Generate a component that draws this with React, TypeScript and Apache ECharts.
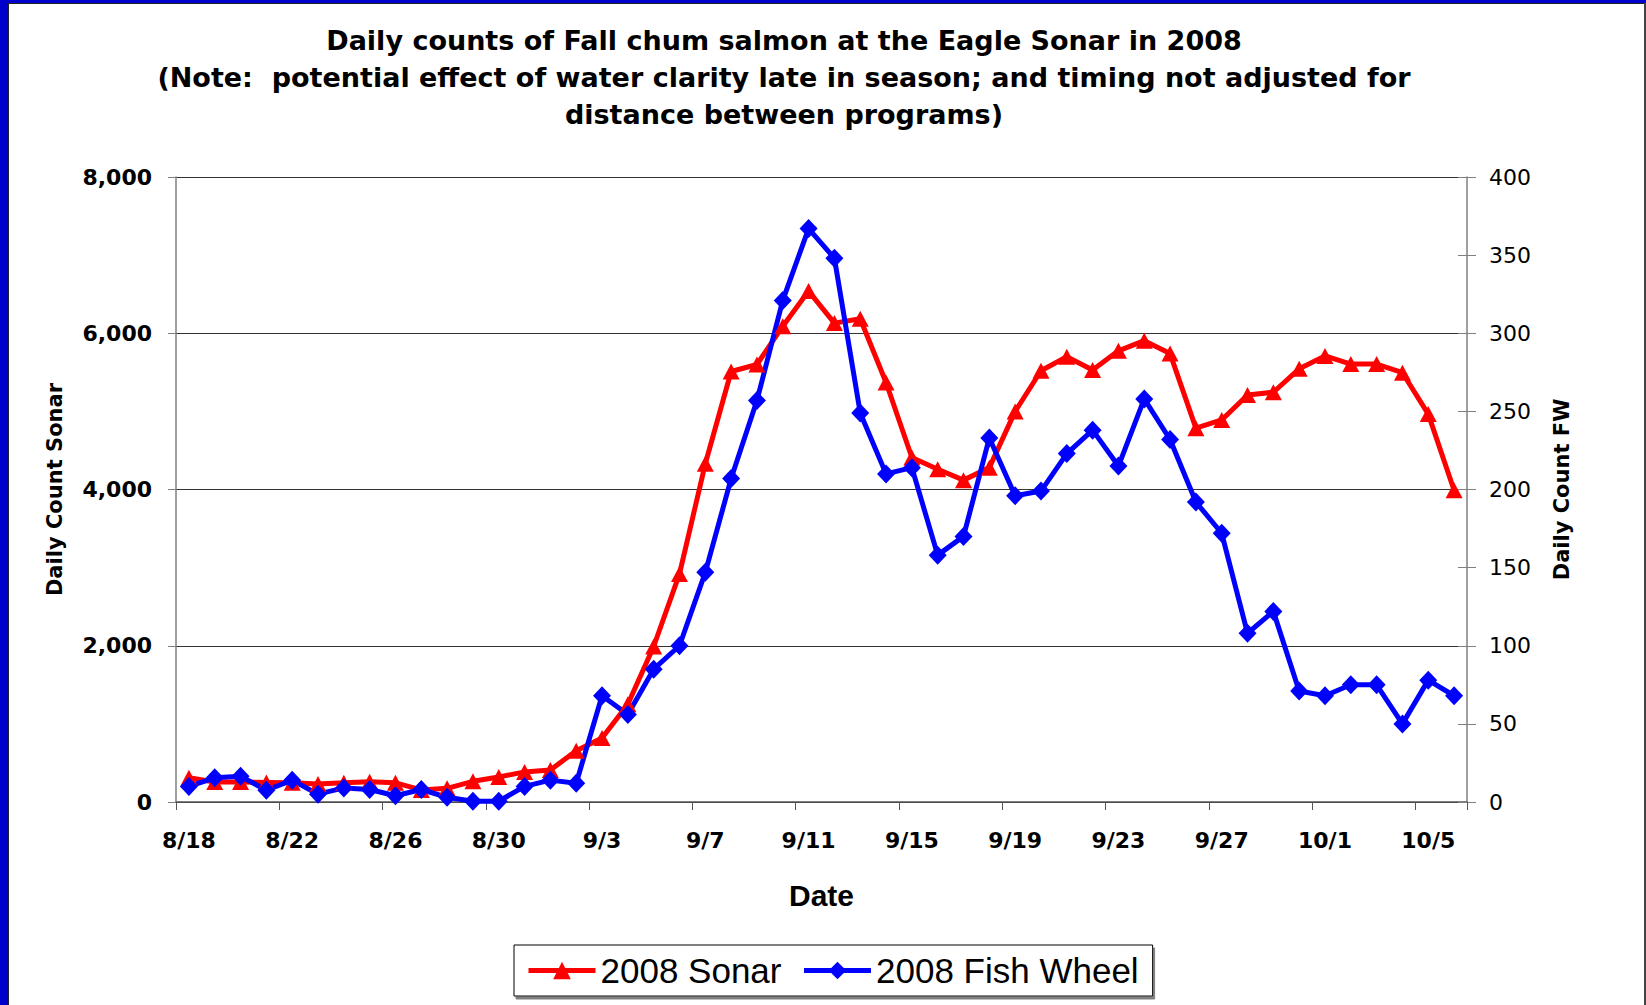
import React, { useEffect, useRef } from "react";
import * as echarts from "echarts";

const dates = [
  "8/18", "8/19", "8/20", "8/21", "8/22", "8/23", "8/24", "8/25", "8/26", "8/27",
  "8/28", "8/29", "8/30", "8/31", "9/1", "9/2", "9/3", "9/4", "9/5", "9/6",
  "9/7", "9/8", "9/9", "9/10", "9/11", "9/12", "9/13", "9/14", "9/15", "9/16",
  "9/17", "9/18", "9/19", "9/20", "9/21", "9/22", "9/23", "9/24", "9/25", "9/26",
  "9/27", "9/28", "9/29", "9/30", "10/1", "10/2", "10/3", "10/4", "10/5", "10/6",
];

const sonar2008 = [
  310, 255, 255, 250, 245, 230, 245, 260, 245, 155,
  175, 265, 320, 385, 410, 655, 820, 1250, 1990, 2920,
  4330, 5510, 5600, 6090, 6540, 6130, 6185, 5370, 4410, 4260,
  4120, 4280, 5000, 5520, 5700, 5530, 5775, 5905, 5740, 4785,
  4890, 5210, 5245, 5545, 5710, 5605, 5605, 5495, 4965, 3990,
];

const fishWheel2008 = [
  10, 15.5, 16.5, 7.5, 14, 5, 9, 8, 4, 8,
  3, 0.5, 0.5, 10, 14, 12, 68, 56, 85, 100,
  147, 207, 257, 321, 367, 348, 249, 210, 214, 158,
  170, 233, 196, 199, 223, 238, 215, 258, 232, 192,
  172, 108, 122, 71, 68, 75, 75, 50, 78, 68,
];

const sonarTicks = { min: 0, max: 8000, interval: 2000 };
const fwTicks = { min: 0, max: 400, interval: 50 };

const titleLines = [
  "Daily counts of Fall chum salmon at the Eagle Sonar in 2008",
  "(Note:  potential effect of water clarity late in season; and timing not adjusted for",
  "distance between programs)",
];

const FONT = '"DejaVu Sans", "Liberation Sans", Arial, sans-serif';
const ARIAL = '"Liberation Sans", Arial, sans-serif';

export default function App() {
  const ref = useRef<HTMLDivElement>(null);

  useEffect(() => {
    if (!ref.current) return;
    const chart = echarts.init(ref.current, undefined, { renderer: "svg" });
    const option: any = {
      animation: false,
      backgroundColor: "#ffffff",
      title: {
        text: titleLines.join("\n"),
        left: 784,
        top: 22,
        textAlign: "center",
        padding: 0,
        textStyle: {
          fontFamily: FONT,
          fontWeight: "bold",
          fontSize: 27,
          lineHeight: 37,
          color: "#000",
        },
      },
      graphic: [
        { type: "rect", shape: { x: 0, y: 0, width: 8, height: 1005 }, style: { fill: "#0000CC" }, silent: true },
        { type: "rect", shape: { x: 0, y: 0, width: 1646, height: 3 }, style: { fill: "#0000CC" }, silent: true },
        { type: "rect", shape: { x: 8, y: 3, width: 1, height: 1002 }, style: { fill: "#222" }, silent: true },
        { type: "rect", shape: { x: 8, y: 3, width: 1638, height: 1 }, style: { fill: "#222" }, silent: true },
        { type: "rect", shape: { x: 1644, y: 3, width: 2, height: 1002 }, style: { fill: "#444" }, silent: true },
      ],
      legend: {
        left: 514,
        top: 945,
        orient: "horizontal",
        padding: [8, 14, 8, 12],
        itemGap: 20,
        itemWidth: 67,
        itemHeight: 22,
        borderColor: "#000",
        borderWidth: 1,
        backgroundColor: "#fff",
        shadowColor: "#808080",
        shadowOffsetX: 2,
        shadowOffsetY: 3,
        shadowBlur: 0,
        lineStyle: { width: 5 },
        textStyle: { fontFamily: ARIAL, fontSize: 35, color: "#000" },
        data: ["2008 Sonar", "2008 Fish Wheel"],
      },
      grid: { left: 176, top: 177, width: 1291, height: 625, containLabel: false },
      xAxis: {
        type: "category",
        data: dates,
        boundaryGap: true,
        name: "Date",
        nameLocation: "middle",
        nameGap: 78,
        nameTextStyle: { fontFamily: ARIAL, fontWeight: "bold", fontSize: 30, color: "#000" },
        axisLine: { lineStyle: { color: "#555", width: 1.5 } },
        axisTick: { show: true, interval: 3, length: 8, lineStyle: { color: "#555" } },
        axisLabel: {
          interval: 3,
          margin: 27,
          fontFamily: FONT,
          fontWeight: "bold",
          fontSize: 22,
          color: "#000",
        },
        splitLine: { show: false },
      },
      yAxis: [
        {
          type: "value",
          position: "left",
          min: sonarTicks.min,
          max: sonarTicks.max,
          interval: sonarTicks.interval,
          name: "Daily Count Sonar",
          nameLocation: "middle",
          nameGap: 111,
          nameRotate: 90,
          nameTextStyle: { fontFamily: FONT, fontWeight: "bold", fontSize: 21, color: "#000" },
          axisLine: { show: true, lineStyle: { color: "#808080", width: 1.5 } },
          axisTick: { show: true, length: 8, lineStyle: { color: "#808080" } },
          axisLabel: {
            margin: 24,
            fontFamily: FONT,
            fontWeight: "bold",
            fontSize: 22,
            color: "#000",
            formatter: (v: number) => v.toLocaleString("en-US"),
          },
          splitLine: { show: true, lineStyle: { color: "#333", width: 1.2 } },
        },
        {
          type: "value",
          position: "right",
          min: fwTicks.min,
          max: fwTicks.max,
          interval: fwTicks.interval,
          name: "Daily Count FW",
          nameLocation: "middle",
          nameGap: 84,
          nameRotate: 90,
          nameTextStyle: { fontFamily: FONT, fontWeight: "bold", fontSize: 21, color: "#000" },
          axisLine: { show: true, lineStyle: { color: "#808080", width: 1.5 } },
          axisTick: { show: true, length: 9, lineStyle: { color: "#808080" } },
          axisLabel: { margin: 22, fontFamily: FONT, fontSize: 22, color: "#000" },
          splitLine: { show: false },
        },
        {
          type: "value",
          position: "right",
          min: fwTicks.min,
          max: fwTicks.max,
          interval: fwTicks.interval,
          axisLine: { show: false },
          axisTick: { show: true, inside: true, length: 9, lineStyle: { color: "#808080" } },
          axisLabel: { show: false },
          splitLine: { show: false },
        },
      ],
      series: [
        {
          name: "2008 Sonar",
          type: "line",
          yAxisIndex: 0,
          data: sonar2008,
          symbol: "triangle",
          symbolSize: [17, 16],
          showAllSymbol: true,
          color: "#FF0000",
          lineStyle: { color: "#FF0000", width: 5 },
          itemStyle: { color: "#FF0000" },
        },
        {
          name: "2008 Fish Wheel",
          type: "line",
          yAxisIndex: 1,
          data: fishWheel2008,
          symbol: "diamond",
          symbolSize: [18, 19],
          showAllSymbol: true,
          color: "#0000FF",
          lineStyle: { color: "#0000FF", width: 5 },
          itemStyle: { color: "#0000FF" },
        },
      ],
    };
    chart.setOption(option);
    return () => chart.dispose();
  }, []);

  return (
    <div
      ref={ref}
      style={{ position: "absolute", left: 0, top: 0, width: 1646, height: 1005, background: "#fff" }}
    />
  );
}
